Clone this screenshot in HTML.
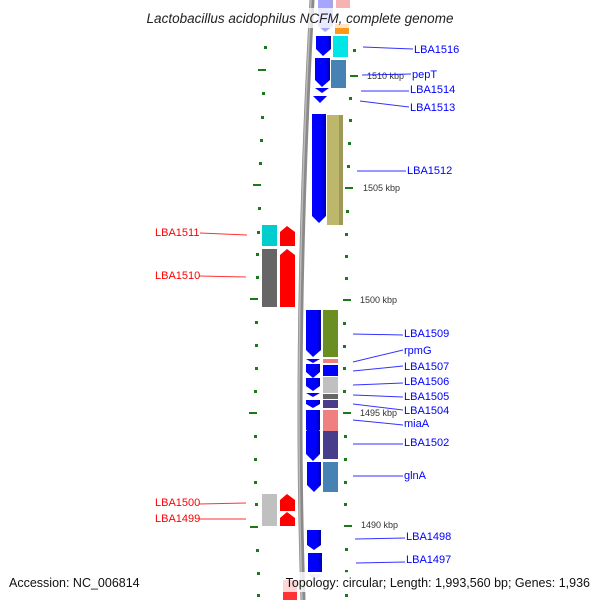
<!DOCTYPE html>
<html><head><meta charset="utf-8"><style>
html,body{margin:0;padding:0;background:#fff;width:600px;height:600px;overflow:hidden}
svg{display:block}
text{font-family:"Liberation Sans","DejaVu Sans",sans-serif}
</style></head><body>
<svg width="600" height="600" viewBox="0 0 600 600" xmlns="http://www.w3.org/2000/svg">
<defs>
<linearGradient id="gb" x1="0" x2="1"><stop offset="0" stop-color="#00f"/><stop offset="0.7" stop-color="#00f"/><stop offset="1" stop-color="#0000a0"/></linearGradient>
</defs>
<!-- backbone -->
<path d="M312,0 Q294,330 303,600" stroke="#8a8a8a" stroke-width="5" fill="none"/>
<path d="M311,0 Q293,330 302,600" stroke="#bbb" stroke-width="1.5" fill="none"/>

<!-- left ticks -->
<g fill="#1a7a1a">
<rect x="264" y="46" width="3" height="3"/><rect x="258" y="69" width="8" height="2"/>
<rect x="262" y="92" width="3" height="3"/><rect x="261" y="116" width="3" height="3"/>
<rect x="260" y="139" width="3" height="3"/><rect x="259" y="162" width="3" height="3"/>
<rect x="253" y="184" width="8" height="2"/><rect x="258" y="207" width="3" height="3"/>
<rect x="257" y="231" width="3" height="3"/><rect x="256" y="253" width="3" height="3"/>
<rect x="256" y="276" width="3" height="3"/><rect x="250" y="298" width="8" height="2"/>
<rect x="255" y="321" width="3" height="3"/><rect x="255" y="344" width="3" height="3"/>
<rect x="255" y="367" width="3" height="3"/><rect x="254" y="390" width="3" height="3"/>
<rect x="249" y="412" width="8" height="2"/><rect x="254" y="435" width="3" height="3"/>
<rect x="254" y="458" width="3" height="3"/><rect x="254" y="481" width="3" height="3"/>
<rect x="255" y="503" width="3" height="3"/><rect x="250" y="526" width="8" height="2"/>
<rect x="256" y="549" width="3" height="3"/><rect x="257" y="572" width="3" height="3"/>
<rect x="257" y="594" width="3" height="3"/>
</g>
<!-- right ticks -->
<g fill="#1a7a1a">
<rect x="353" y="49" width="3" height="3"/><rect x="350" y="75" width="8" height="2"/>
<rect x="349" y="97" width="3" height="3"/><rect x="349" y="119" width="3" height="3"/>
<rect x="348" y="142" width="3" height="3"/><rect x="347" y="165" width="3" height="3"/>
<rect x="345" y="187" width="8" height="2"/><rect x="346" y="210" width="3" height="3"/>
<rect x="345" y="233" width="3" height="3"/><rect x="345" y="255" width="3" height="3"/>
<rect x="345" y="277" width="3" height="3"/><rect x="343" y="299" width="8" height="2"/>
<rect x="343" y="322" width="3" height="3"/><rect x="343" y="345" width="3" height="3"/>
<rect x="343" y="367" width="3" height="3"/><rect x="343" y="390" width="3" height="3"/>
<rect x="343" y="412" width="8" height="2"/><rect x="344" y="435" width="3" height="3"/>
<rect x="344" y="458" width="3" height="3"/><rect x="344" y="481" width="3" height="3"/>
<rect x="344" y="503" width="3" height="3"/><rect x="344" y="525" width="8" height="2"/>
<rect x="345" y="548" width="3" height="3"/><rect x="345" y="570" width="3" height="3"/>
<rect x="345" y="594" width="3" height="3"/>
</g>
<g font-size="9" fill="#333">
<text x="367" y="79">1510 kbp</text><text x="363" y="191">1505 kbp</text>
<text x="360" y="303">1500 kbp</text><text x="360" y="416">1495 kbp</text>
<text x="361" y="528">1490 kbp</text>
</g>

<!-- blue genes -->
<g fill="url(#gb)">
<polygon points="318,0 333,0 333,26 325,32 318,26" opacity="0.35"/>
<polygon points="316,36 331,36 331,49 323,56 316,49"/>
<polygon points="315,58 330,58 330,80 322,87 315,80"/>
<polygon points="315,88 329,88 322,93"/>
<polygon points="313,96 327,96 320,103"/>
<polygon points="312,114 326,114 326,216 319,223 312,216"/>
<polygon points="306,310 321,310 321,350 313,357 306,350"/>
<polygon points="306,359 320,359 313,363"/>
<polygon points="306,364 320,364 320,372 313,378 306,372"/>
<polygon points="306,378 320,378 320,386 313,391 306,386"/>
<polygon points="306,393 320,393 313,397"/>
<polygon points="306,400 320,400 320,404 313,408 306,404"/>
<polygon points="306,410 320,410 320,430 313,436 306,430"/>
<polygon points="306,431 320,431 320,454 313,461 306,454"/>
<polygon points="307,462 321,462 321,485 314,492 307,485"/>
<polygon points="307,530 321,530 321,545 314,550 307,545"/>
<polygon points="308,553 322,553 322,572 308,572"/>
<polygon points="308,574 322,574 315,581" opacity="0.25"/>
</g>
<!-- colored boxes right -->
<rect x="336" y="0" width="14" height="8" fill="#f08080" opacity="0.6"/>
<rect x="335" y="24" width="14" height="10" fill="#ff8c00" opacity="0.9"/>
<rect x="333" y="36" width="15" height="21" fill="#00e5e5"/>
<rect x="331" y="60" width="15" height="28" fill="#4682b4"/>
<rect x="327" y="115" width="16" height="110" fill="#bdb76b"/>
<rect x="339" y="115" width="4" height="110" fill="#9e985a"/>
<rect x="323" y="310" width="15" height="47" fill="#6b8e23"/>
<rect x="323" y="359" width="15" height="4" fill="#f08080"/>
<rect x="323" y="365" width="15" height="11" fill="#0000ff"/>
<rect x="323" y="377" width="15" height="16" fill="#c0c0c0"/>
<rect x="323" y="394" width="15" height="5" fill="#666"/>
<rect x="323" y="400" width="15" height="8" fill="#483d8b"/>
<rect x="323" y="410" width="15" height="21" fill="#f08080"/>
<rect x="323" y="431" width="15" height="28" fill="#483d8b"/>
<rect x="323" y="462" width="15" height="30" fill="#4682b4"/>
<!-- left -->
<rect x="262" y="225" width="15" height="21" fill="#00cdcd"/>
<rect x="262" y="249" width="15" height="58" fill="#666"/>
<rect x="262" y="494" width="15" height="32" fill="#c0c0c0"/>
<g fill="#ff0000">
<polygon points="280,232 287,226 295,232 295,246 280,246"/>
<polygon points="280,255 287,249 295,255 295,307 280,307"/>
<polygon points="280,500 287,494 295,500 295,511 280,511"/>
<polygon points="280,518 287,512 295,518 295,526 280,526"/>
<rect x="283" y="580" width="14" height="20" opacity="0.8"/>
</g>

<!-- leader lines -->
<g stroke="#0000ff" stroke-width="1" opacity="0.8">
<line x1="363" y1="47" x2="413" y2="49"/>
<line x1="362" y1="75" x2="411" y2="74"/>
<line x1="361" y1="91" x2="409" y2="91"/>
<line x1="360" y1="101" x2="409" y2="107"/>
<line x1="357" y1="171" x2="406" y2="171"/>
<line x1="353" y1="334" x2="403" y2="335"/>
<line x1="353" y1="362" x2="403" y2="350"/>
<line x1="353" y1="371" x2="403" y2="366"/>
<line x1="353" y1="385" x2="403" y2="383"/>
<line x1="353" y1="395" x2="403" y2="397"/>
<line x1="353" y1="404" x2="403" y2="410"/>
<line x1="353" y1="420" x2="403" y2="425"/>
<line x1="353" y1="444" x2="403" y2="444"/>
<line x1="353" y1="476" x2="403" y2="476"/>
<line x1="355" y1="539" x2="405" y2="538"/>
<line x1="356" y1="563" x2="405" y2="562"/>
</g>
<g stroke="#ff0000" stroke-width="1" opacity="0.8">
<line x1="200" y1="233" x2="247" y2="235"/>
<line x1="199" y1="276" x2="246" y2="277"/>
<line x1="199" y1="504" x2="246" y2="503"/>
<line x1="199" y1="519" x2="246" y2="519"/>
</g>
<g font-size="11" fill="#0000ff">
<text x="414" y="53">LBA1516</text>
<text x="412" y="78">pepT</text>
<text x="410" y="93">LBA1514</text>
<text x="410" y="111">LBA1513</text>
<text x="407" y="174">LBA1512</text>
<text x="404" y="337">LBA1509</text>
<text x="404" y="354">rpmG</text>
<text x="404" y="370">LBA1507</text>
<text x="404" y="385">LBA1506</text>
<text x="404" y="400">LBA1505</text>
<text x="404" y="414">LBA1504</text>
<text x="404" y="427">miaA</text>
<text x="404" y="446">LBA1502</text>
<text x="404" y="479">glnA</text>
<text x="406" y="540">LBA1498</text>
<text x="406" y="563">LBA1497</text>
</g>
<g font-size="11" fill="#ff0000">
<text x="155" y="236">LBA1511</text>
<text x="155" y="279">LBA1510</text>
<text x="155" y="506">LBA1500</text>
<text x="155" y="522">LBA1499</text>
</g>
<rect x="125" y="8" width="352" height="20" fill="#fff" opacity="0.75"/>
<text x="300" y="23" font-size="13.5" font-style="italic" fill="#222" text-anchor="middle">Lactobacillus acidophilus NCFM, complete genome</text>
<rect x="260" y="572" width="340" height="20" fill="#fff" opacity="0.8"/>
<text x="9" y="587" font-size="12.5" fill="#111">Accession: NC_006814</text>
<text x="590" y="587" font-size="12.5" fill="#111" text-anchor="end">Topology: circular; Length: 1,993,560 bp; Genes: 1,936</text>
</svg>
</body></html>
